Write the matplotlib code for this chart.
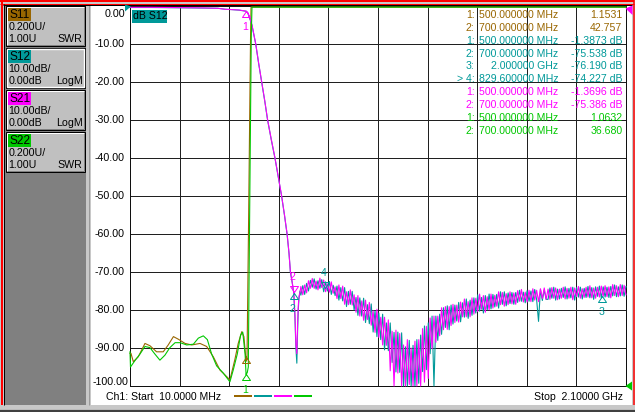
import numpy as np
import matplotlib
matplotlib.use("Agg")
import matplotlib.pyplot as plt
from matplotlib.patches import Rectangle, Polygon

plt.rcParams['font.family'] = ['Liberation Sans', 'DejaVu Sans']

W, H = 635, 412
BROWN = '#996600'
TEAL = '#009999'
MAGENTA = '#ff00ff'
GREEN = '#00c800'
GRID = '#202020'

# ---------------- data ----------------
f_start, f_stop = 10.0, 2100.0          # MHz
y_top, y_bottom = 0.0, -100.0           # display divisions (dB scale)
y_tick_values = [0, -10, -20, -30, -40, -50, -60, -70, -80, -90, -100]
y_tick_labels = ['0.00', '-10.00', '-20.00', '-30.00', '-40.00', '-50.00',
                 '-60.00', '-70.00', '-80.00', '-90.00', '-100.00']

# S11 (SWR, 0.200U/div, ref 1.00U at bottom)
s11_freq = [10, 14, 24, 45, 73, 94, 122, 150, 171, 193, 214, 242, 270, 305, 333, 361,
            389, 417, 431, 452, 466, 481, 490, 499, 500, 503, 504.5, 510, 515, 518,
            520, 540, 700, 2100]
s11_swr = [1.172, 1.172, 1.128, 1.154, 1.224, 1.212, 1.180, 1.180, 1.216, 1.260, 1.246,
           1.224, 1.216, 1.224, 1.208, 1.154, 1.084, 1.050, 1.032, 1.140, 1.224, 1.286,
           1.260, 1.130, 1.1531, 1.14, 1.30, 1.90, 2.50, 2.84, 3.02, 8.0, 42.757, 20.0]

# S22 (SWR, 0.200U/div, ref 1.00U at bottom)
s22_freq = [10, 12, 31, 52, 73, 94, 115, 136, 157, 178, 200, 221, 249, 277, 298, 319,
            336, 354, 375, 403, 431, 445, 462, 476, 485, 495, 499, 500, 504, 508.5,
            512, 517, 521, 524, 560, 700, 2100]
s22_swr = [1.18, 1.10, 1.134, 1.168, 1.208, 1.202, 1.168, 1.136, 1.162, 1.202, 1.228,
           1.228, 1.216, 1.220, 1.252, 1.264, 1.244, 1.168, 1.106, 1.068, 1.022, 1.084,
           1.168, 1.268, 1.284, 1.168, 1.060, 1.0632, 1.07, 1.10, 1.60, 2.30, 2.84,
           3.02, 10.0, 36.68, 25.0]

# S21 / S12 passband and skirt (dB)
roll_freq = [10, 100, 200, 260, 320, 380, 410, 440, 470, 490, 500, 507, 512, 518, 524,
             532, 540, 552, 565, 578, 590, 605, 621, 635, 649, 661, 672, 680, 686, 693,
             700, 705, 709, 713, 716, 719, 722, 726]
s21_roll_db = [-0.35, -0.35, -0.4, -0.45, -0.5, -0.6, -0.85, -0.95, -1.05, -1.25,
               -1.3696, -1.8, -2.8, -3.8, -5.0, -7.5, -10.0, -15.0, -20.0, -25.0, -30.0,
               -35.0, -40.0, -45.0, -50.0, -55.0, -60.0, -65.0, -70.0, -72.5, -75.386,
               -81.0, -89.0, -91.5, -84.0, -79.0, -76.5, -75.5]
s12_roll_db = [-0.4, -0.4, -0.45, -0.5, -0.55, -0.6, -0.85, -0.95, -1.1, -1.3,
               -1.3873, -1.9, -2.9, -3.9, -5.1, -7.6, -10.1, -15.1, -20.1, -25.1, -30.1,
               -35.1, -40.1, -45.1, -50.1, -55.1, -60.1, -65.1, -70.1, -72.6, -75.538,
               -82.0, -90.0, -94.0, -86.0, -80.0, -77.0, -75.0]

# S21 / S12 stopband sweep points, 730 MHz .. 2100 MHz (dB)
stop_first, stop_last = 730.0, 2100.0
s21_stop_db = [
    -73.8, -76.0, -73.4, -75.5, -72.3, -74.3, -71.7, -74.3, -72.4, -74.7,
    -71.6, -74.1, -72.1, -75.2, -73.1, -75.3, -72.6, -75.6, -73.9, -77.0,
    -73.4, -77.0, -73.7, -78.5, -75.2, -78.6, -74.7, -78.7, -76.0, -80.6,
    -76.2, -81.6, -77.6, -82.7, -77.4, -82.5, -78.0, -84.0, -80.2, -85.9,
    -79.8, -87.2, -81.9, -89.2, -81.9, -89.3, -82.6, -96.0, -85.6, -100.5,
    -85.3, -96.6, -86.2, -100.5, -89.2, -100.7, -87.8, -99.6, -90.0, -101.3,
    -88.2, -100.3, -87.8, -100.4, -84.9, -99.0, -84.3, -98.0, -82.1, -90.2,
    -81.6, -88.5, -81.6, -86.8, -79.4, -85.2, -79.1, -85.1, -79.1, -84.1,
    -78.5, -83.3, -78.7, -83.2, -77.9, -81.8, -77.1, -81.8, -77.8, -81.8,
    -76.8, -81.1, -76.9, -80.4, -75.8, -79.8, -76.2, -80.6, -76.5, -80.0,
    -75.8, -79.5, -76.1, -79.0, -75.2, -78.6, -75.4, -79.0, -75.7, -78.6,
    -75.2, -78.4, -75.5, -78.5, -74.9, -77.7, -74.6, -77.9, -75.3, -77.9,
    -74.8, -77.8, -74.4, -77.4, -74.8, -77.8, -74.4, -77.0, -74.2, -77.2,
    -74.5, -77.2, -74.1, -76.9, -74.2, -77.3, -74.5, -76.9, -74.0, -77.1,
    -74.3, -76.9, -74.0, -77.3, -74.2, -76.5, -73.8, -76.9, -74.4, -76.7,
    -74.0, -76.6, -73.6, -76.8, -74.2, -76.9, -74.0, -76.6, -73.7, -76.4,
    -73.6, -76.5, -73.9, -76.8, -73.3, -76.2, -73.6, -76.5, -73.3, -76.2, -73.5, -76.0]
s12_stop_db = [
    -76.1, -73.6, -75.9, -73.0, -75.0, -72.2, -74.0, -71.8, -74.5, -72.3,
    -74.3, -72.0, -75.2, -72.6, -75.0, -72.5, -75.9, -73.5, -76.2, -73.7,
    -77.4, -74.1, -77.6, -74.1, -79.1, -75.1, -78.5, -75.1, -80.0, -76.7,
    -81.4, -76.8, -81.6, -76.9, -83.3, -78.6, -83.6, -78.4, -85.8, -80.2,
    -87.0, -80.8, -87.8, -81.1, -90.5, -83.4, -90.7, -83.4, -93.8, -85.9,
    -96.3, -85.8, -96.4, -86.0, -100.5, -89.7, -100.1, -88.0, -101.0, -89.3,
    -100.7, -87.8, -99.3, -86.6, -96.2, -84.2, -95.7, -83.4, -91.5, -81.6,
    -100.5, -81.6, -88.0, -81.1, -86.4, -79.4, -84.6, -78.9, -85.2, -78.7,
    -83.7, -78.7, -82.9, -78.0, -83.1, -78.1, -81.9, -77.1, -82.2, -77.4,
    -81.4, -76.8, -80.8, -76.0, -80.3, -76.7, -80.8, -76.2, -80.0, -75.8,
    -79.7, -75.9, -79.2, -75.9, -79.5, -75.2, -78.5, -75.2, -78.9, -75.5,
    -78.3, -75.4, -78.5, -75.4, -78.0, -74.8, -77.7, -75.3, -78.1, -74.9,
    -77.7, -75.0, -77.8, -74.6, -77.3, -83.0, -74.6, -77.5, -74.7, -77.2,
    -77.2, -74.2, -76.9, -74.0, -77.4, -74.5, -77.1, -74.3, -76.7, -73.9,
    -77.1, -74.3, -76.8, -74.0, -77.4, -74.1, -76.6, -74.0, -77.1, -74.3,
    -76.7, -73.8, -76.8, -74.1, -77.2, -73.9, -76.4, -73.7, -76.8, -73.9,
    -76.6, -74.0, -76.7, -73.8, -76.3, -73.4, -76.5, -73.9, -76.3, -73.4, -76.4, -73.8]

# markers: (freq MHz, value, trace, label, body below?)
marker_freq = [500, 500, 500, 700, 700, 829.6, 2000]
marker_val = [-1.3696, -92.35, -96.84, -75.538, -75.386, -74.227, -76.19]
marker_trace = ['S21', 'S11', 'S22', 'S12', 'S21', 'S12', 'S12']
marker_label = ['1', '', '1', '2', '2', '4', '3']
marker_below = [True, True, True, True, False, False, True]

# marker readout table
table_idx = ['1:', '2:', '1:', '2:', '3:', '> 4:', '1:', '2:', '1:', '2:']
table_freq = ['500.000000 MHz', '700.000000 MHz', '500.000000 MHz', '700.000000 MHz',
              '2.000000 GHz', '829.600000 MHz', '500.000000 MHz', '700.000000 MHz',
              '500.000000 MHz', '700.000000 MHz']
table_val = ['1.1531', '42.757', '-1.3873 dB', '-75.538 dB', '-76.190 dB', '-74.227 dB',
             '-1.3696 dB', '-75.386 dB', '1.0632', '36.680']
table_trace = ['S11', 'S11', 'S12', 'S12', 'S12', 'S12', 'S21', 'S21', 'S22', 'S22']

# channel buttons
button_names = ['S11', 'S12', 'S21', 'S22']
button_scale = ['0.200U/', '10.00dB/', '10.00dB/', '0.200U/']
button_ref = ['1.00U', '0.00dB', '0.00dB', '1.00U']
button_fmt = ['SWR', 'LogM', 'LogM', 'SWR']

start_text = 'Ch1: Start  10.0000 MHz'
stop_text = 'Stop  2.10000 GHz'

COLORS = {'S11': BROWN, 'S12': TEAL, 'S21': MAGENTA, 'S22': GREEN}


def swr_to_div(swr):
    return np.clip(-100 + (np.asarray(swr, float) - 1.0) / 0.2 * 10.0, -100, -0.3)


def db_to_div(db):
    return np.clip(np.asarray(db, float), -100, -0.3)


# ---------------- figure ----------------
fig = plt.figure(figsize=(W / 100, H / 100), dpi=100, facecolor='#c8c8c8')
bg = fig.add_axes([0, 0, 1, 1], zorder=0)
bg.set_xlim(0, W); bg.set_ylim(H, 0); bg.axis('off')
fg = fig.add_axes([0, 0, 1, 1], zorder=5)
fg.set_xlim(0, W); fg.set_ylim(H, 0); fg.axis('off'); fg.patch.set_alpha(0)

PX = 0.72  # points per pixel


def rect(a, x0, y0, x1, y1, **kw):
    a.add_patch(Rectangle((x0, y0), x1 - x0, y1 - y0, **kw))


def seg(a, xs, ys, color, lw=1.0, **kw):
    a.plot(xs, ys, color=color, lw=lw * PX, solid_capstyle='butt', **kw)


# frame
rect(bg, 0, 0, W, H, fc='#c8c8c8', ec='none')
rect(bg, 3.8, 5, 86, 404.5, fc='#808080', ec='none')
rect(bg, 86, 5, 91, 404.5, fc='#c8c8c8', ec='none')
seg(bg, [88.5, 88.5], [5, 404.5], '#9a9a9a', 1)
rect(bg, 91, 5, 632, 404.5, fc='white', ec='none')
seg(bg, [0, 634], [1, 1], '#ff0000', 2)
seg(bg, [0, 634], [3.5, 3.5], '#ff0000', 1)
seg(bg, [1.5, 1.5], [0, 404.5], '#ff0000', 2)
seg(bg, [633.5, 633.5], [0, 404.5], '#ff0000', 1.5)
seg(bg, [3, 632], [4.6, 4.6], 'black', 1)
seg(bg, [3.5, 3.5], [4, 404.5], 'black', 1)
seg(bg, [0, W], [411, 411], '#404040', 2.2)

# channel buttons
btn_top = [6, 48, 90, 132]
for k, name in enumerate(button_names):
    y0 = btn_top[k]
    y1 = y0 + 40
    x0, x1 = 5.5, 84.5
    rect(bg, x0, y0, x1, y1, fc='#c0c0c0', ec='black', lw=PX)
    if k == 1:
        rect(bg, x0 + 1, y0 + 1, x1 - 1, y1 - 1, fc='none', ec='white', lw=1.4 * PX)
    else:
        seg(bg, [x0 + 1, x1 - 1], [y0 + 1, y0 + 1], 'white', 1)
        seg(bg, [x0 + 1, x0 + 1], [y0 + 1, y1 - 1], 'white', 1)
        seg(bg, [x0 + 1, x1 - 1], [y1 - 1, y1 - 1], '#808080', 1)
        seg(bg, [x1 - 1, x1 - 1], [y0 + 1, y1 - 1], '#808080', 1)
    rect(bg, 8.3, y0 + 2.3, 30.8, y0 + 14.8, fc=COLORS[name], ec='none')
    bg.text(9.2, y0 + 9, name, fontsize=8.6, va='center', ha='left', color='black')
    bg.text(8.5, y0 + 21, button_scale[k], fontsize=7.7, va='center', ha='left')
    bg.text(8.5, y0 + 32.5, button_ref[k], fontsize=7.7, va='center', ha='left')
    bg.text(82.5, y0 + 32.5, button_fmt[k], fontsize=7.7, va='center', ha='right')

# ---------------- plot area ----------------
ax = fig.add_axes([130 / W, (H - 386) / H, 496 / W, 380 / H], zorder=2)
ax.patch.set_alpha(0)
ax.set_xlim(f_start, f_stop)
ax.set_ylim(y_bottom, y_top)
ax.set_xticks(np.linspace(f_start, f_stop, 11))
ax.set_yticks(y_tick_values)
ax.tick_params(length=0, labelleft=False, labelbottom=False)
ax.grid(True, color=GRID, lw=PX, snap=True)
for s in ax.spines.values():
    s.set_color('#101010')
    s.set_linewidth(PX)
ax.set_axisbelow(True)

stop_freq = np.linspace(stop_first, stop_last, len(s21_stop_db))
s21_f = np.concatenate([roll_freq, stop_freq])
s21_v = np.concatenate([s21_roll_db, s21_stop_db])
s12_f = np.concatenate([roll_freq, np.linspace(stop_first, stop_last, len(s12_stop_db))])
s12_v = np.concatenate([s12_roll_db, s12_stop_db])

lw_tr = 1.1 * PX
ax.plot(s11_freq, swr_to_div(s11_swr), color=BROWN, lw=lw_tr, clip_on=False, zorder=3)
ax.plot(s12_f, db_to_div(s12_v), color=TEAL, lw=lw_tr, clip_on=False, zorder=4)
ax.plot(s21_f, db_to_div(s21_v), color=MAGENTA, lw=lw_tr, clip_on=False, zorder=5)
ax.plot(s22_freq, swr_to_div(s22_swr), color=GREEN, lw=lw_tr, clip_on=False, zorder=6)

# y tick labels
for v, lab in zip(y_tick_values, y_tick_labels):
    dy = 0
    dx = -5
    if v == 0:
        dy = -8
    elif v == -100:
        dy = 4
        dx = -2
    ax.annotate(lab, (f_start, v), xytext=(dx, dy), textcoords='offset pixels',
                ha='right', va='center', fontsize=7.7, color='black',
                annotation_clip=False)

# markers
for f, v, tr, lab, below in zip(marker_freq, marker_val, marker_trace, marker_label,
                                marker_below):
    c = COLORS[tr]
    dv = swr_to_div([1 + (v + 100) / 50])[0] if tr in ('S11', 'S22') else v
    verts = [(0, 0), (-4, -6), (4, -6), (0, 0)] if below else \
            [(0, 0), (-4, 6), (4, 6), (0, 0)]
    ax.plot([f], [dv], marker=verts, ms=8.64, mfc='none', mec=c, mew=PX,
            ls='none', clip_on=False, zorder=8)
    if lab:
        ax.annotate(lab, (f, dv), xytext=(-1, -16 if below else 15),
                    textcoords='offset pixels', ha='center', va='center',
                    fontsize=7.6, color=c, annotation_clip=False, zorder=8)

# reference indicators
fg.add_patch(Polygon([(125, 4.5), (131, 6.5), (125, 11.5)], closed=True, fc=TEAL, ec='none'))
fg.add_patch(Polygon([(625.5, 8.5), (632.5, 5.5), (632.5, 15)], closed=True, fc=MAGENTA, ec='none'))
fg.add_patch(Polygon([(625.5, 386), (632, 381.5), (632, 390.5)], closed=True, fc=GREEN, ec='none'))

# active trace title
rect(fg, 131.5, 10, 166.5, 22.5, fc=TEAL, ec='none')
fg.text(133, 16.3, 'dB S12', fontsize=7.6, va='center', ha='left', color='black')

# marker table
for k in range(len(table_idx)):
    y = 15 + 12.85 * k
    c = COLORS[table_trace[k]]
    fg.text(474.5, y, table_idx[k], fontsize=7.6, ha='right', va='center', color=c)
    fg.text(558.5, y, table_freq[k], fontsize=7.6, ha='right', va='center', color=c)
    fg.text(622.5, y, table_val[k], fontsize=7.6, ha='right', va='center', color=c)

# bottom annotation
fg.text(106, 396.5, start_text, fontsize=7.6, ha='left', va='center', color='black')
fg.text(623, 396.5, stop_text, fontsize=7.6, ha='right', va='center', color='black')
for k, name in enumerate(button_names):
    x0 = 234 + 20 * k
    seg(fg, [x0, x0 + 18], [395.5, 395.5], COLORS[name], 2)

fig.savefig('out.png', dpi=100, facecolor=fig.get_facecolor())
